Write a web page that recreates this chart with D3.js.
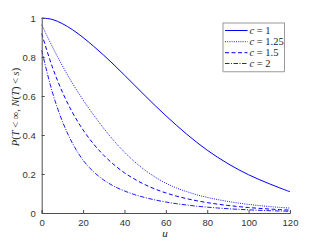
<!DOCTYPE html>
<html><head><meta charset="utf-8">
<script src="https://cdn.jsdelivr.net/npm/d3@7"></script>
<style>body{margin:0;background:#fff}svg{display:block}</style>
</head><body>
<svg id="c" width="321" height="241"></svg>
<script>
const uVals = [0,5,10,15,20,25,30,35,40,45,50,55,60,65,70,75,80,85,90,95,100,105,110,115,120];
const c1    = [1,0.993,0.971,0.939,0.900,0.856,0.809,0.759,0.707,0.654,0.601,0.549,0.499,0.451,0.405,0.362,0.322,0.286,0.253,0.223,0.196,0.172,0.150,0.129,0.109];
const c125  = [0.965,0.856,0.755,0.663,0.580,0.504,0.434,0.369,0.312,0.262,0.219,0.183,0.153,0.129,0.110,0.0934,0.080,0.0689,0.0593,0.051,0.0441,0.0382,0.0332,0.0289,0.0251];
const c15   = [0.92,0.753,0.620,0.513,0.426,0.355,0.296,0.247,0.206,0.173,0.145,0.122,0.103,0.087,0.0738,0.0627,0.0533,0.0454,0.0387,0.033,0.0281,0.0239,0.0204,0.0174,0.0148];
const c2    = [0.835,0.625,0.470,0.355,0.271,0.212,0.169,0.137,0.113,0.094,0.079,0.0665,0.0564,0.048,0.041,0.035,0.030,0.0257,0.022,0.0189,0.0162,0.0139,0.0119,0.0102,0.0088];
const seriesNames = ["c = 1","c = 1.25","c = 1.5","c = 2"];
const xTicks = [0,20,40,60,80,100,120];
const yTicks = [0,0.2,0.4,0.6,0.8,1];

const svg = d3.select("#c");
const x = d3.scaleLinear().domain([0,120]).range([41.7,290]);
const y = d3.scaleLinear().domain([0,1]).range([213,18]);
const axisCol = "#4d4d4d";

const series = [c1,c125,c15,c2];
const dashes = [null,"1,1.2","4,2.5","4.5,1.5,1,1.5"];
const widths = [1,0.9,1,0.9];
const line = d3.line().x((d,i)=>x(uVals[i])).y(d=>y(d)).curve(d3.curveCatmullRom.alpha(0.5));

const g = svg.append("g");
series.forEach((s,k)=>{
  g.append("path").attr("d",line(s)).attr("fill","none")
   .attr("stroke","#0000ff").attr("stroke-width",widths[k])
   .attr("stroke-dasharray",dashes[k]);
});

// axes
const xa = svg.append("g").attr("transform","translate(0,213)")
  .call(d3.axisBottom(x).tickValues(xTicks).tickSize(-3).tickPadding(6).tickFormat(d3.format("d")));
const ya = svg.append("g").attr("transform","translate(41.7,0)")
  .call(d3.axisLeft(y).tickValues(yTicks).tickSize(-3).tickPadding(6).tickFormat(d=>d===0||d===1?d3.format("d")(d):d3.format(".1f")(d)));
[xa,ya].forEach(a=>{
  a.select(".domain").attr("stroke",axisCol).attr("stroke-width",1);
  a.selectAll(".tick line").attr("stroke",axisCol);
  a.selectAll(".tick text").attr("fill","#333").attr("font-family","Liberation Sans, Arial, sans-serif").attr("font-size",9.5);
});

// labels
svg.append("text").attr("x",165).attr("y",237).attr("text-anchor","middle")
  .attr("font-family","Liberation Serif, serif").attr("font-style","italic").attr("font-size",11).attr("fill","#222").text("u");
const yl = svg.append("text").attr("transform","translate(19,107) rotate(-90)").attr("text-anchor","middle")
  .attr("font-family","Liberation Serif, serif").attr("font-size",10.5).attr("fill","#222");
yl.append("tspan").attr("font-style","italic").text("P");
yl.append("tspan").text("(");
yl.append("tspan").attr("font-style","italic").text("T");
yl.append("tspan").text(" < ∞, ");
yl.append("tspan").attr("font-style","italic").text("N");
yl.append("tspan").text("(");
yl.append("tspan").attr("font-style","italic").text("T");
yl.append("tspan").text(") < ");
yl.append("tspan").attr("font-style","italic").text("s");
yl.append("tspan").text(")");

// legend
const lg = svg.append("g");
lg.append("rect").attr("x",223).attr("y",23).attr("width",61.5).attr("height",48.5)
  .attr("fill","#fff").attr("stroke","#999").attr("stroke-width",1);
lg.append("line").attr("x1",223).attr("x2",284.5).attr("y1",72).attr("y2",72).attr("stroke","#ccc").attr("stroke-width",1.2);
const rowY = [30.5,41.7,52.7,63.5];
seriesNames.forEach((n,k)=>{
  lg.append("line").attr("x1",225).attr("x2",247.5).attr("y1",rowY[k]).attr("y2",rowY[k])
    .attr("stroke","#0000ff").attr("stroke-width",widths[k]).attr("stroke-dasharray",dashes[k]);
  const t = lg.append("text").attr("x",249.5).attr("y",rowY[k]+3.5).attr("font-family","Liberation Serif, serif")
    .attr("font-size",10.5).attr("fill","#222");
  const parts = n.split(" = ");
  t.append("tspan").attr("font-style","italic").text(parts[0]);
  t.append("tspan").text(" = "+parts[1]);
});
</script>
</body></html>
